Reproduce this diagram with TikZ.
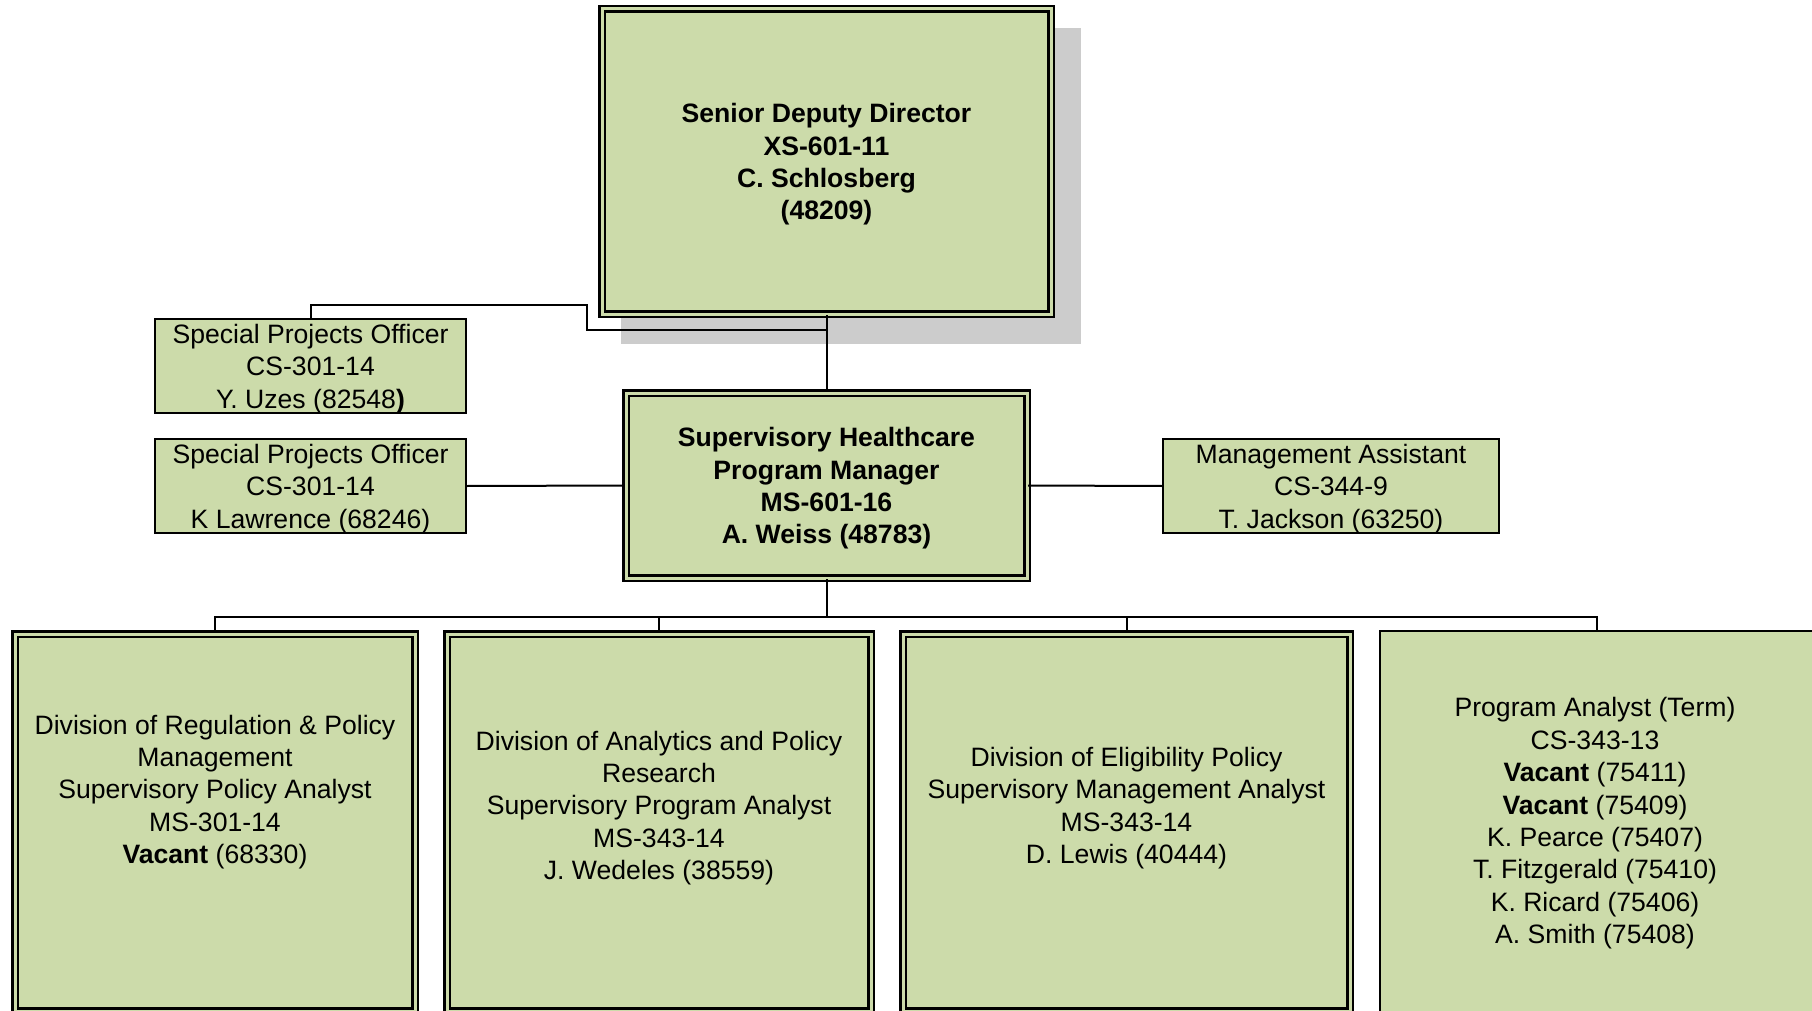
\documentclass[tikz,border=0pt]{standalone}
\usepackage{fontspec}
\setmainfont{Liberation Sans}
\usetikzlibrary{calc,backgrounds}
\definecolor{boxgreen}{RGB}{204,219,170}
\definecolor{shadowgray}{RGB}{204,204,204}
\newcommand{\chartfont}{\fontsize{13.3}{16.2}\selectfont}
\tikzset{
  post/.style={draw=black, line width=1pt, fill=boxgreen, inner sep=0pt},
  dpost/.style={post, line width=1.2pt, double=boxgreen, double distance=1.5pt},
  divtext/.style={align=center, inner sep=0pt, font=\chartfont},
  link/.style={line width=1pt}
}
\begin{document}
\begin{tikzpicture}[x=0.5pt,y=-0.5pt]
	\useasboundingbox (0,0) rectangle (1812,1011);
	\clip (0,0) rectangle (1812,1011);
	%top
	\node[dpost, minimum width=224.5pt, minimum height=152.5pt] (sdd) at (826.5,161.5) {};
	\begin{scope}[on background layer]
		\fill[shadowgray] ($(sdd.south west)+(20,29)$) rectangle ($(sdd.north east)+(29,20)$);
	\end{scope}
	\node[divtext, font=\chartfont\bfseries] (sddtxt) at ($(sdd)+(0,3)$)
		{Senior Deputy Director\\XS-601-11\\C. Schlosberg\\(48209)};
	%program manager and staff
	\node[dpost, minimum width=200.5pt, minimum height=92.5pt] (shpm) at (826.5,485.5) {};
	\node[divtext, font=\chartfont\bfseries] (shpmtxt) at ($(shpm)+(0,3)$)
		{Supervisory Healthcare\\Program Manager\\MS-601-16\\A. Weiss (48783)};
	\node[post, minimum width=155.5pt, minimum height=47pt] (uzes) at (310.5,366) {};
	\node[divtext] (uzestxt) at ($(uzes)+(0,3)$)
		{Special Projects Officer\\CS-301-14\\Y. Uzes (82548\textbf{)}};
	\node[post, minimum width=155.5pt, minimum height=47pt] (lawrence) at (310.5,486) {};
	\node[divtext] (lawrencetxt) at ($(lawrence)+(0,3)$)
		{Special Projects Officer\\CS-301-14\\K Lawrence (68246)};
	\node[post, minimum width=168pt, minimum height=47pt] (jackson) at (1331,486) {};
	\node[divtext] (jacksontxt) at ($(jackson)+(0,3)$)
		{Management Assistant\\CS-344-9\\T. Jackson (63250)};
	%divisions
	\node[dpost, minimum width=200pt, minimum height=188.5pt] (drp) at (215,822.5) {};
	\node[dpost, minimum width=212pt, minimum height=188.5pt] (dapr) at (659,822.5) {};
	\node[dpost, minimum width=223.5pt, minimum height=188.5pt] (dep) at (1126.5,822.5) {};
	\node[post, minimum width=216.5pt, minimum height=192pt] (pa) at (1596.5,823) {};
	\node[divtext] (drptxt) at (215,792)
		{Division of Regulation \& Policy\\Management\\Supervisory Policy Analyst\\MS-301-14\\\textbf{Vacant} (68330)};
	\node[divtext] (daprtxt) at (659,808)
		{Division of Analytics and Policy\\Research\\Supervisory Program Analyst\\MS-343-14\\J. Wedeles (38559)};
	\node[divtext] (deptxt) at (1126.5,808)
		{Division of Eligibility Policy\\Supervisory Management Analyst\\MS-343-14\\D. Lewis (40444)};
	\node[divtext] (patxt) at (1595,823.5)
		{Program Analyst (Term)\\CS-343-13\\\textbf{Vacant} (75411)\\\textbf{Vacant} (75409)\\K. Pearce (75407)\\T. Fitzgerald (75410)\\K. Ricard (75406)\\A. Smith (75408)};
	%connectors
	\coordinate (uzesjoin) at (826.5,330);
	\coordinate (bus) at (826.5,618);
	\draw[link] (sdd.south) -- (shpm.north);
	\draw[link] (uzes.north) -- ++(0,-13) -| (587,330) -- (uzesjoin);
	\draw[link] (lawrence.east) -- (shpm.west);
	\draw[link] (jackson.west) -- (shpm.east);
	\draw[link] (shpm.south) -- (bus);
	\draw[link] (drp.north) -- ++(0,-16) -| (pa.north);
	\draw[link] (dapr.north) -- ++(0,-16);
	\draw[link] (dep.north) -- ++(0,-16);
\end{tikzpicture}
\end{document}
